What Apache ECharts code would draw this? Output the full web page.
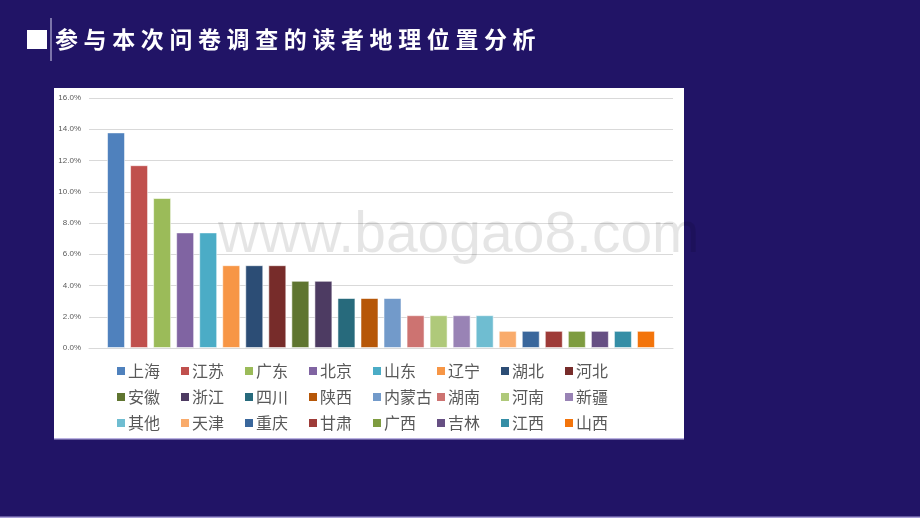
<!DOCTYPE html>
<html>
<head>
<meta charset="utf-8">
<script src="https://cdn.jsdelivr.net/npm/echarts@6/dist/echarts.min.js"></script>
<style>
html,body{margin:0;padding:0;background:#211466;}
#wrap{position:relative;width:920px;height:518px;}
#chart{position:absolute;left:0;top:0;width:920px;height:518px;}
#title{position:absolute;left:55px;top:21px;color:#fff;font:bold 23px "Noto Sans CJK SC";letter-spacing:5.6px;white-space:nowrap;line-height:34px;}
</style>
</head>
<body>
<div id="wrap">
<div id="chart"></div>
<div id="title">参与本次问卷调查的读者地理位置分析</div>
</div>
<script>
const titleText = '参与本次问卷调查的读者地理位置分析';
const regions = ['上海','江苏','广东','北京','山东','辽宁','湖北','河北','安徽','浙江','四川','陕西','内蒙古','湖南','河南','新疆','其他','天津','重庆','甘肃','广西','吉林','江西','山西'];
const shares = [13.8,11.7,9.6,7.4,7.4,5.3,5.3,5.3,4.3,4.3,3.2,3.2,3.2,2.1,2.1,2.1,2.1,1.1,1.1,1.1,1.1,1.1,1.1,1.1];
const colors = ['#4F81BD','#C0504D','#9BBB59','#8064A2','#4BACC6','#F79646','#2C4D75','#772C2A','#5F7530','#4D3B62','#276A7C','#B65708','#729ACA','#CD7371','#AFC97A','#9983B5','#6FBDD1','#F9AB6B','#3A679C','#9E3B38','#7E9C40','#664F83','#358EA6','#F3740B'];
const yTicks = [0,2,4,6,8,10,12,14,16];

const chart = echarts.init(document.getElementById('chart'), null, {renderer:'canvas'});
const series = regions.map((name,i)=>({
  name: name,
  type: 'bar',
  data: [shares[i]],
  barWidth: 18,
  barGap: '28%',
  itemStyle: {color: colors[i], borderColor: 'rgba(255,255,255,0.55)', borderWidth: 1},
  z: 2
}));
chart.setOption({
  backgroundColor: '#211466',
  animation: false,
  graphic: [
    {type:'rect', shape:{x:54,y:88,width:630,height:351}, style:{fill:'#ffffff'}, z:-10},
    {type:'rect', shape:{x:54,y:438,width:630,height:1.5}, style:{fill:'#b9b0e0'}, z:-9},
    {type:'rect', shape:{x:0,y:516.5,width:920,height:1.5}, style:{fill:'#a99fd8'}, z:-9},
    {type:'rect', shape:{x:27,y:30,width:20,height:19}, style:{fill:'#ffffff'}},
    {type:'rect', shape:{x:50.5,y:18,width:1,height:43}, style:{fill:'#d8d4ee'}},
    {type:'text', left:218, top:208, z:100, silent:true,
      style:{text:'www.baogao8.com', font:'57px "Liberation Sans"', fill:'rgba(0,0,0,0.1)'}}
  ],
  grid: {left:89, right:247, top:98, bottom:170},
  xAxis: {
    type:'category', data:[''],
    axisLine:{lineStyle:{color:'#d9d9d9'}},
    axisTick:{show:false}, axisLabel:{show:false}
  },
  yAxis: {
    type:'value', min:yTicks[0], max:yTicks[yTicks.length-1], interval:2,
    axisLine:{show:false}, axisTick:{show:false},
    axisLabel:{formatter:v=>v.toFixed(1)+'%', color:'#595959', fontSize:8, margin:8, fontFamily:'Liberation Sans'},
    splitLine:{lineStyle:{color:'#d9d9d9'}}
  },
  legend: {
    data: regions,
    left: 117, top: 360, width: 540, padding: 0,
    itemWidth: 8, itemHeight: 8, itemGap: 4,
    icon: 'rect',
    itemStyle: {borderWidth: 0},
    textStyle: {color:'#595959', fontSize:16, fontFamily:'Noto Sans CJK SC', width:49, lineHeight:22, padding:[0,0,0,-2]}
  },
  series: series
});
</script>
</body>
</html>
